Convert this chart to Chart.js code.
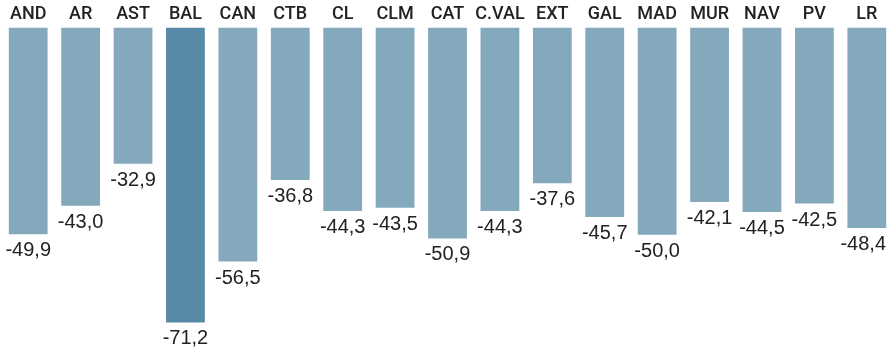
<!DOCTYPE html>
<html>
<head>
<meta charset="utf-8">
<script src="https://cdn.jsdelivr.net/npm/chart.js@4"></script>
<style>
    html, body { margin: 0; padding: 0; background: #fff; }
    #outer { width: 887px; height: 349px; overflow: hidden; }
    #wrap { width: 893px; height: 349px; position: relative; }
</style>
</head>
<body>
<div id="outer"><div id="wrap"><canvas id="barChart"></canvas></div></div>
<script>
// regions and their values
const regions = ["AND", "AR", "AST", "BAL", "CAN", "CTB", "CL", "CLM", "CAT", "C.VAL", "EXT", "GAL", "MAD", "MUR", "NAV", "PV", "LR"];
const values = [-49.9, -43.0, -32.9, -71.2, -56.5, -36.8, -44.3, -43.5, -50.9, -44.3, -37.6, -45.7, -50.0, -42.1, -44.5, -42.5, -48.4];
const highlight = "BAL";

const lightBlue = "#84a9bd";
const darkBlue = "#5889a6";
const visibleWidth = 887;

// value labels under each bar, with a decimal comma
const valueLabels = {
    id: "valueLabels",
    afterDatasetsDraw(c) {
        const ctx = c.ctx;
        const meta = c.getDatasetMeta(0);
        ctx.save();
        ctx.font = "20px 'Liberation Sans', Arial, sans-serif";
        ctx.fillStyle = "#222";
        ctx.textAlign = "center";
        ctx.textBaseline = "alphabetic";
        meta.data.forEach((bar, i) => {
            const txt = values[i].toFixed(1).replace(".", ",");
            const w = ctx.measureText(txt).width;
            // keep the last label inside the visible page
            const x = Math.min(bar.x, visibleWidth - 1 - w / 2);
            ctx.fillText(txt, x, bar.y + 22);
        });
        ctx.restore();
    }
};

const chart = new Chart(document.getElementById("barChart"), {
    type: "bar",
    data: {
        labels: regions,
        datasets: [{
            data: values,
            backgroundColor: regions.map(r => r === highlight ? darkBlue : lightBlue),
            borderWidth: 0,
            barPercentage: 0.74,
            categoryPercentage: 1
        }]
    },
    options: {
        responsive: true,
        maintainAspectRatio: false,
        animation: false,
        layout: { padding: { left: 2, right: 0, top: 2, bottom: 0 } },
        plugins: {
            legend: { display: false },
            tooltip: { enabled: false }
        },
        scales: {
            x: {
                position: "top",
                grid: { display: false, drawTicks: false },
                border: { display: false },
                ticks: {
                    color: "#222",
                    padding: 2,
                    maxRotation: 0,
                    autoSkip: false,
                    font: { family: "Roboto", size: 18, weight: "500" }
                }
            },
            y: {
                display: false,
                min: -77.6,
                max: 0
            }
        }
    },
    plugins: [valueLabels]
});
</script>
</body>
</html>
